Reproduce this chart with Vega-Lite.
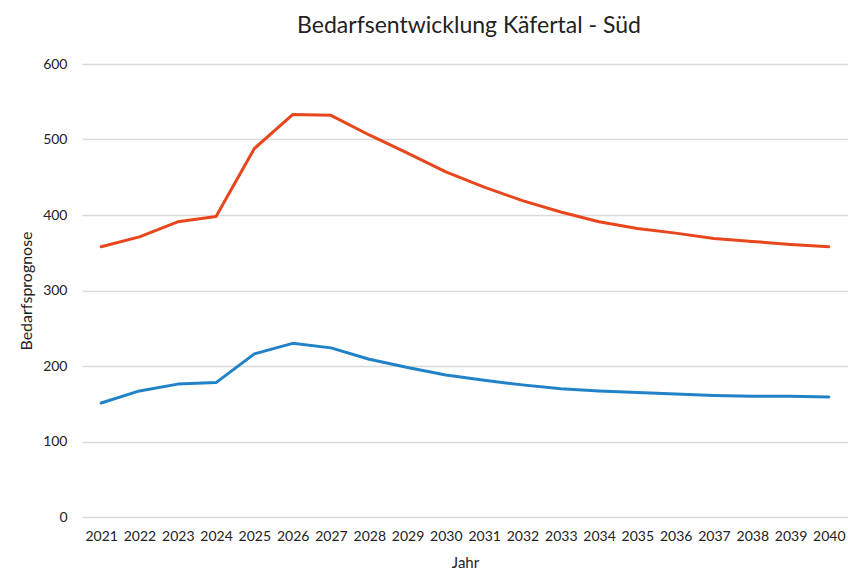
{
  "$schema": "https://vega.github.io/schema/vega-lite/v6.json",
  "autosize": "none",
  "width": 766,
  "height": 453,
  "padding": {"left": 82, "top": 64, "right": 0, "bottom": 55},
  "background": "white",
  "title": {"text": "Bedarfsentwicklung Käfertal - Süd", "fontSize": 23, "font": "Lato", "fontWeight": "normal", "color": "#222222", "offset": 19, "anchor": "middle", "dx": 4},
  "config": {"view": {"stroke": null}, "font": "Lato"},
  "data": {"values": [
    {"Jahr": "2021", "Serie": "A", "Wert": 358}, {"Jahr": "2022", "Serie": "A", "Wert": 371}, {"Jahr": "2023", "Serie": "A", "Wert": 391}, {"Jahr": "2024", "Serie": "A", "Wert": 398}, {"Jahr": "2025", "Serie": "A", "Wert": 488}, {"Jahr": "2026", "Serie": "A", "Wert": 533}, {"Jahr": "2027", "Serie": "A", "Wert": 532}, {"Jahr": "2028", "Serie": "A", "Wert": 506}, {"Jahr": "2029", "Serie": "A", "Wert": 482}, {"Jahr": "2030", "Serie": "A", "Wert": 457}, {"Jahr": "2031", "Serie": "A", "Wert": 437}, {"Jahr": "2032", "Serie": "A", "Wert": 419}, {"Jahr": "2033", "Serie": "A", "Wert": 404}, {"Jahr": "2034", "Serie": "A", "Wert": 391}, {"Jahr": "2035", "Serie": "A", "Wert": 382}, {"Jahr": "2036", "Serie": "A", "Wert": 376}, {"Jahr": "2037", "Serie": "A", "Wert": 369}, {"Jahr": "2038", "Serie": "A", "Wert": 365}, {"Jahr": "2039", "Serie": "A", "Wert": 361}, {"Jahr": "2040", "Serie": "A", "Wert": 358},
    {"Jahr": "2021", "Serie": "B", "Wert": 151}, {"Jahr": "2022", "Serie": "B", "Wert": 167}, {"Jahr": "2023", "Serie": "B", "Wert": 176}, {"Jahr": "2024", "Serie": "B", "Wert": 178}, {"Jahr": "2025", "Serie": "B", "Wert": 216}, {"Jahr": "2026", "Serie": "B", "Wert": 230}, {"Jahr": "2027", "Serie": "B", "Wert": 224}, {"Jahr": "2028", "Serie": "B", "Wert": 209}, {"Jahr": "2029", "Serie": "B", "Wert": 198}, {"Jahr": "2030", "Serie": "B", "Wert": 188}, {"Jahr": "2031", "Serie": "B", "Wert": 181}, {"Jahr": "2032", "Serie": "B", "Wert": 175}, {"Jahr": "2033", "Serie": "B", "Wert": 170}, {"Jahr": "2034", "Serie": "B", "Wert": 167}, {"Jahr": "2035", "Serie": "B", "Wert": 165}, {"Jahr": "2036", "Serie": "B", "Wert": 163}, {"Jahr": "2037", "Serie": "B", "Wert": 161}, {"Jahr": "2038", "Serie": "B", "Wert": 160}, {"Jahr": "2039", "Serie": "B", "Wert": 160}, {"Jahr": "2040", "Serie": "B", "Wert": 159}
  ]},
  "mark": {"type": "line", "strokeWidth": 3, "strokeJoin": "round", "strokeCap": "round"},
  "encoding": {
    "x": {"field": "Jahr", "type": "ordinal", "scale": {"type": "point", "padding": 0.5},
      "axis": {"title": "Jahr", "labelAngle": 0, "labelFontSize": 14, "labelColor": "#222222", "titleFontSize": 15, "titleFontWeight": "normal", "titleColor": "#222222", "ticks": false, "domain": false, "labelPadding": 12, "titlePadding": 12}},
    "y": {"field": "Wert", "type": "quantitative", "scale": {"domain": [0, 600]},
      "axis": {"title": "Bedarfsprognose", "values": [0, 100, 200, 300, 400, 500, 600], "labelFontSize": 14, "labelColor": "#222222", "titleFontSize": 16, "titleFontWeight": "normal", "titleColor": "#222222", "ticks": false, "domain": false, "labelPadding": 15, "titlePadding": 8, "gridColor": "#d9d9d9", "gridWidth": 1.5}},
    "color": {"field": "Serie", "type": "nominal", "scale": {"domain": ["A", "B"], "range": ["#E8461C", "#2282C8"]}, "legend": null}
  }
}
